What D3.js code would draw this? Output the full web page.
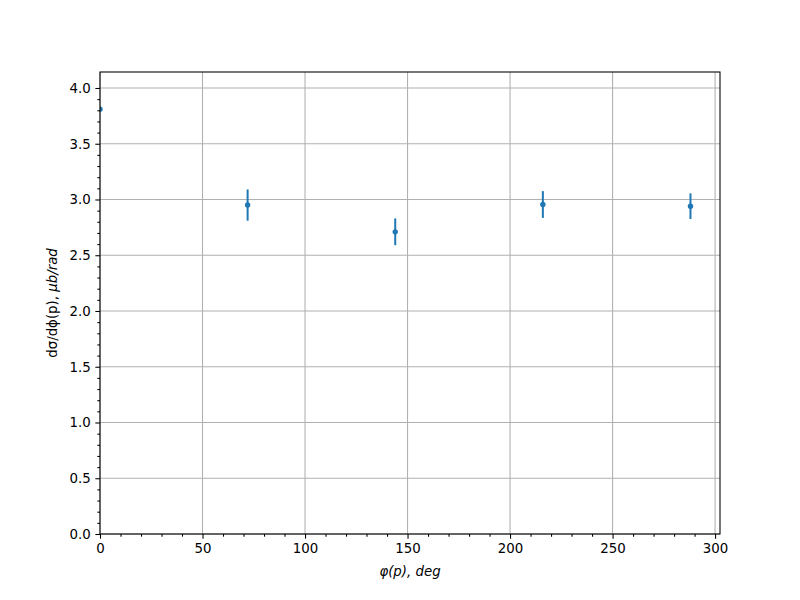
<!DOCTYPE html>
<html><head><meta charset="utf-8">
<script src="https://cdn.jsdelivr.net/npm/d3@7"></script>
<style>body{margin:0;background:#fff}text{font-family:"DejaVu Sans",sans-serif}</style>
</head><body>
<svg id="c" width="800" height="600"></svg>
<script>
const phi = [0, 72, 144, 216, 288];
const sigma = [3.81, 2.95, 2.71, 2.955, 2.94];
const err = [0.01, 0.14, 0.12, 0.12, 0.115];
const xTicks = [0, 50, 100, 150, 200, 250, 300];
const yTicks = [0, 0.5, 1.0, 1.5, 2.0, 2.5, 3.0, 3.5, 4.0];

const svg = d3.select("#c");
const L = 100, R = 720, T = 72, B = 534;
const x = d3.scaleLinear().domain([0, 302.4]).range([L, R]);
const y = d3.scaleLinear().domain([0, 4.1434]).range([B, T]);
const col = "#1f77b4";

svg.append("defs").append("clipPath").attr("id", "clip")
  .append("rect").attr("x", L).attr("y", T).attr("width", R - L).attr("height", B - T);

// grid
svg.append("g").selectAll("line").data(xTicks).join("line")
  .attr("x1", d => x(d)).attr("x2", d => x(d)).attr("y1", T).attr("y2", B)
  .attr("stroke", "#b0b0b0").attr("stroke-width", 1.07);
svg.append("g").selectAll("line").data(yTicks).join("line")
  .attr("y1", d => y(d)).attr("y2", d => y(d)).attr("x1", L).attr("x2", R)
  .attr("stroke", "#b0b0b0").attr("stroke-width", 1.07);

// axes
const xAxis = d3.axisBottom(x).tickValues(xTicks).tickFormat(d3.format("d")).tickSize(4.67).tickPadding(4.7);
const xMinor = d3.axisBottom(x).tickValues(d3.range(0, 301, 10).filter(v => v % 50 !== 0)).tickFormat("").tickSize(2.67);
const yAxis = d3.axisLeft(y).tickValues(yTicks).tickFormat(d3.format(".1f")).tickSize(4.67).tickPadding(4.7);
const yMinor = d3.axisLeft(y).tickValues(d3.range(0, 41, 1).map(v => v / 10).filter((v, i) => i % 5 !== 0)).tickFormat("").tickSize(2.67);

function style(g){
  g.select(".domain").remove();
  g.selectAll("line").attr("stroke", "#000").attr("stroke-width", 1.07);
  g.selectAll("text").attr("font-size", "13.33px").attr("fill", "#000").attr("font-family", "DejaVu Sans");
}
svg.append("g").attr("transform", `translate(0,${B})`).call(xAxis).call(style);
svg.append("g").attr("transform", `translate(0,${B})`).call(xMinor).call(style);
svg.append("g").attr("transform", `translate(${L},0)`).call(yAxis).call(style);
svg.append("g").attr("transform", `translate(${L},0)`).call(yMinor).call(style);

// data (clipped to axes)
const data = svg.append("g").attr("clip-path", "url(#clip)");
data.append("g").selectAll("line").data(phi).join("line")
  .attr("x1", d => x(d)).attr("x2", d => x(d))
  .attr("y1", (d, i) => y(sigma[i] - err[i])).attr("y2", (d, i) => y(sigma[i] + err[i]))
  .attr("stroke", col).attr("stroke-width", 2);
data.append("g").selectAll("circle").data(phi).join("circle")
  .attr("cx", d => x(d)).attr("cy", (d, i) => y(sigma[i])).attr("r", 2.7).attr("fill", col);

// frame
svg.append("rect").attr("x", L).attr("y", T).attr("width", R - L).attr("height", B - T)
  .attr("fill", "none").attr("stroke", "#000").attr("stroke-width", 1.07);

// labels
const xl = svg.append("text").attr("x", (L + R) / 2).attr("y", 576).attr("text-anchor", "middle")
  .attr("font-size", "13.33px").attr("font-style", "italic");
xl.text("φ(p), deg");
const yl = svg.append("text").attr("transform", `translate(57,${(T + B) / 2}) rotate(-90)`)
  .attr("text-anchor", "middle").attr("font-size", "13.33px");
yl.append("tspan").text("dσ/dϕ(p), ");
yl.append("tspan").attr("font-style", "italic").text("μb/rad");
</script>
</body></html>
